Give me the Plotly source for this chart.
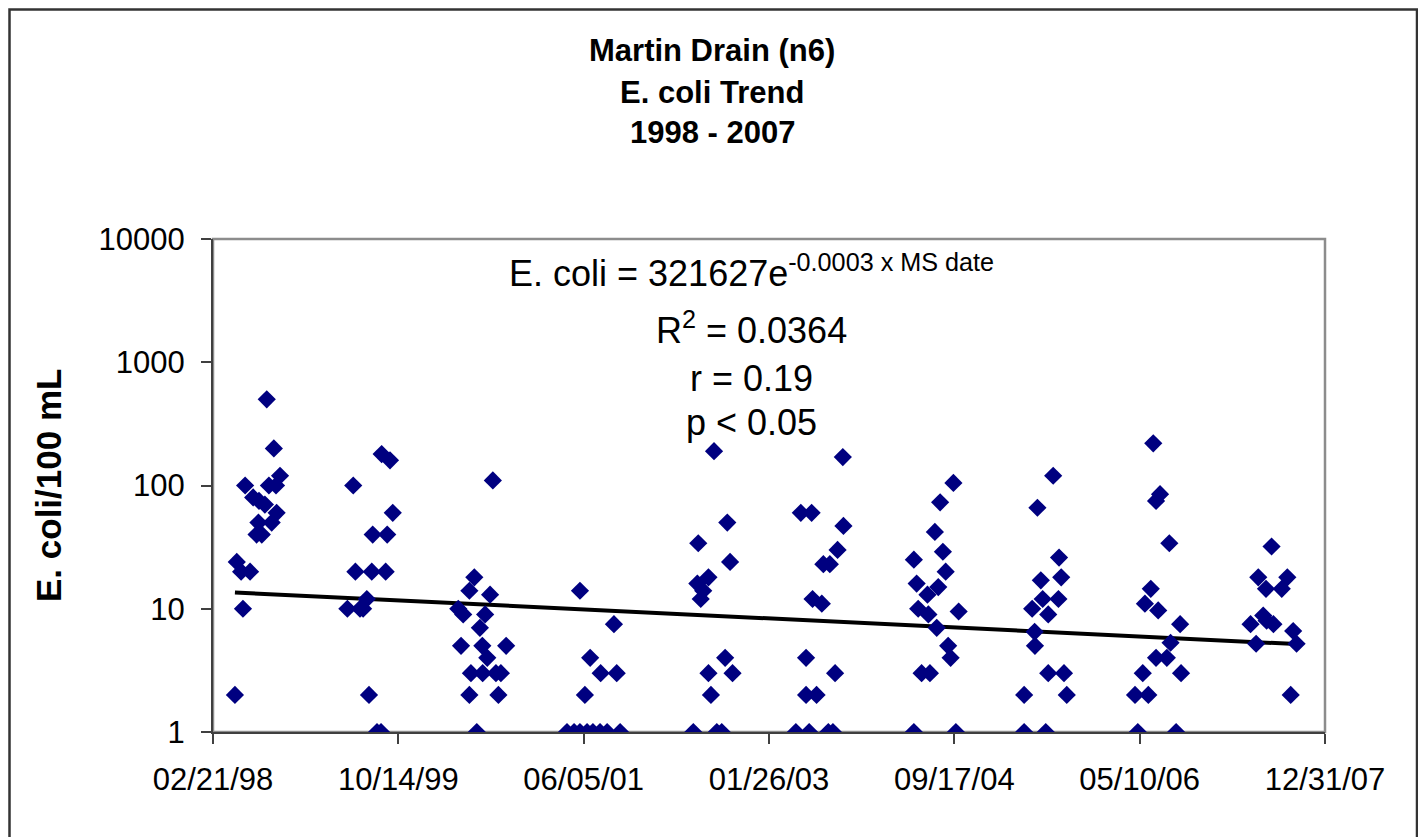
import numpy as np
import plotly.graph_objects as go

# ---------------- data ----------------
# Sample dates as Microsoft (Excel) date serials ("MS date")
ms_date = [
    35918, 35924, 35938, 35944, 35951, 35967, 35977, 35988, 35994, 35996, 36005, 36015, 36021, 36028, 36037, 36044, 36051, 36053, 36064,
    36282, 36301, 36308, 36323, 36333, 36345, 36352, 36361, 36364, 36378, 36391, 36393, 36406, 36411, 36420, 36429,
    36641, 36650, 36657, 36677, 36677, 36682, 36693, 36701, 36711, 36719, 36720, 36728, 36735, 36744, 36753, 36763, 36771, 36779, 36796,
    36993, 37016, 37035, 37035, 37051, 37058, 37068, 37077, 37100, 37102, 37123, 37145, 37154, 37165,
    37402, 37415, 37418, 37426, 37434, 37451, 37451, 37459, 37469, 37478, 37494, 37505, 37512, 37521, 37529,
    37734, 37750, 37767, 37767, 37777, 37785, 37788, 37801, 37818, 37823, 37839, 37844, 37854, 37861, 37869, 37886, 37888,
    38116, 38116, 38125, 38130, 38141, 38160, 38163, 38168, 38184, 38190, 38195, 38201, 38210, 38219, 38227, 38235, 38244, 38252, 38261,
    38473, 38473, 38499, 38507, 38508, 38516, 38527, 38533, 38543, 38551, 38551, 38567, 38584, 38586, 38593, 38602, 38611,
    38832, 38841, 38857, 38864, 38875, 38883, 38891, 38900, 38900, 38907, 38913, 38935, 38943, 38947, 38965, 38978, 38981,
    39206, 39224, 39231, 39247, 39256, 39258, 39274, 39280, 39307, 39325, 39336, 39344, 39355,
]
# E. coli counts per 100 mL
ecoli = [
    2, 24, 20, 10, 100, 20, 80, 40, 50, 75, 40, 70, 500, 100, 50, 200, 100, 60, 120,
    10, 100, 20, 10, 10, 12, 2, 20, 40, 1, 1, 180, 20, 40, 160, 60,
    10, 5, 9, 14, 2, 3, 18, 1, 7, 5, 3, 9, 4, 13, 110, 3, 2, 3, 5,
    1, 1, 14, 1, 2, 1, 4, 1, 1, 3, 1, 7.5, 3, 1,
    1, 16, 34, 12, 14, 18, 3, 2, 190, 1, 1, 4, 50, 24, 3,
    1, 60, 4, 2, 1, 60, 12, 2, 11, 23, 1, 23, 1, 3, 30, 170, 47,
    25, 1, 16, 10, 3, 13, 9, 3, 42, 7, 15, 73, 29, 20, 5, 4, 105, 1, 9.5,
    2, 1, 10, 6.5, 5, 66, 17, 12, 1, 9, 3, 120, 12, 26, 18, 3, 2,
    2, 1, 3, 11, 2, 14.5, 220, 75, 4, 9.7, 85, 4, 34, 5.3, 1, 7.5, 3,
    7.5, 5.2, 18, 8.8, 14.5, 8, 32, 7.5, 14.5, 18, 2, 6.6, 5.2,
]

# Exponential trend  E. coli = a * exp(b * MS date)
trend_a = 321627
trend_b = -0.0002805

x_tick_vals = [35847, 36447, 37047, 37647, 38247, 38847, 39447]
x_tick_text = ["02/21/98", "10/14/99", "06/05/01", "01/26/03", "09/17/04", "05/10/06", "12/31/07"]
y_tick_vals = [1, 10, 100, 1000, 10000]
y_tick_text = ["1", "10", "100", "1000", "10000"]

title_lines = ["Martin Drain (n6)", "E. coli Trend", "1998 - 2007"]
stat_lines = [
    "E. coli = 321627e<sup>-0.0003 x MS date</sup>",
    "R<sup>2</sup> = 0.0364",
    "r = 0.19",
    "p < 0.05",
]
y_title = "E. coli/100 mL"

# ---------------- layout geometry ----------------
OFF = 8                      # page body margin of the browser
W, H = 1426 - OFF, 837 - OFF
# plot-area edges, in screen pixels
SL, SR, ST, SB = 213, 1325, 239, 732
L, R, T, B = SL - OFF, SR - OFF, ST - OFF, SB - OFF
FONT = "Arial, 'Liberation Sans', sans-serif"


def px(x):
    """screen x pixel -> paper fraction"""
    return (x - OFF - L) / (R - L)


def py(y):
    """screen y pixel -> paper fraction"""
    return (B - (y - OFF)) / (B - T)


trend_x = np.linspace(min(ms_date), max(ms_date), 300)
trend_y = trend_a * np.exp(trend_b * trend_x)

fig = go.Figure()
fig.add_trace(go.Scatter(
    x=trend_x, y=trend_y, mode="lines",
    line=dict(color="black", width=4), hoverinfo="skip", showlegend=False,
))
fig.add_trace(go.Scatter(
    x=ms_date, y=ecoli, mode="markers",
    marker=dict(symbol="diamond", size=14, color="#000080", line=dict(width=0)),
    showlegend=False,
))

annotations = []
for txt, ycen in zip(title_lines, [50, 92, 133]):
    annotations.append(dict(
        text="<b>%s</b>" % txt, x=px(712), y=py(ycen), xref="paper", yref="paper",
        xanchor="center", yanchor="middle", showarrow=False,
        font=dict(family=FONT, size=31, color="black"),
    ))
for txt, ycen in zip(stat_lines, [271, 328, 378, 422]):
    annotations.append(dict(
        text=txt, x=px(751), y=py(ycen), xref="paper", yref="paper",
        xanchor="center", yanchor="middle", showarrow=False,
        font=dict(family=FONT, size=36, color="black"),
    ))
annotations.append(dict(
    text="<b>%s</b>" % y_title, x=px(48), y=py(486), xref="paper", yref="paper",
    xanchor="center", yanchor="middle", textangle=-90, showarrow=False,
    font=dict(family=FONT, size=35, color="black"),
))

shapes = [
    # plot-area frame (grey)
    dict(type="rect", xref="paper", yref="paper", x0=0, x1=1, y0=0, y1=1,
         line=dict(color="#8c8c8c", width=2.5), layer="below"),
    # chart-area border
    dict(type="rect", xref="paper", yref="paper", x0=px(9.5), x1=px(1417), y0=py(845), y1=py(9.5),
         line=dict(color="#333333", width=2.5), layer="below"),
]

fig.update_layout(
    width=W, height=H,
    margin=dict(l=L, r=W - R, t=T, b=H - B, pad=0),
    paper_bgcolor="white", plot_bgcolor="white",
    font=dict(family=FONT, size=31, color="black"),
    annotations=annotations, shapes=shapes,
    showlegend=False,
)
fig.update_xaxes(
    range=[x_tick_vals[0], x_tick_vals[-1]],
    tickmode="array", tickvals=x_tick_vals, ticktext=x_tick_text,
    showgrid=False, zeroline=False,
    showline=True, linecolor="#404040", linewidth=2,
    ticks="outside", ticklen=10, tickwidth=2, tickcolor="#404040",
    ticklabelstandoff=9,
    tickfont=dict(family=FONT, size=31, color="black"),
)
fig.update_yaxes(
    type="log", range=[0, 4],
    tickmode="array", tickvals=y_tick_vals, ticktext=y_tick_text,
    showgrid=False, zeroline=False,
    showline=True, linecolor="#404040", linewidth=2,
    ticks="outside", ticklen=10, tickwidth=2, tickcolor="#404040",
    ticklabelstandoff=10,
    tickfont=dict(family=FONT, size=31, color="black"),
)

fig.write_html("out.html")
